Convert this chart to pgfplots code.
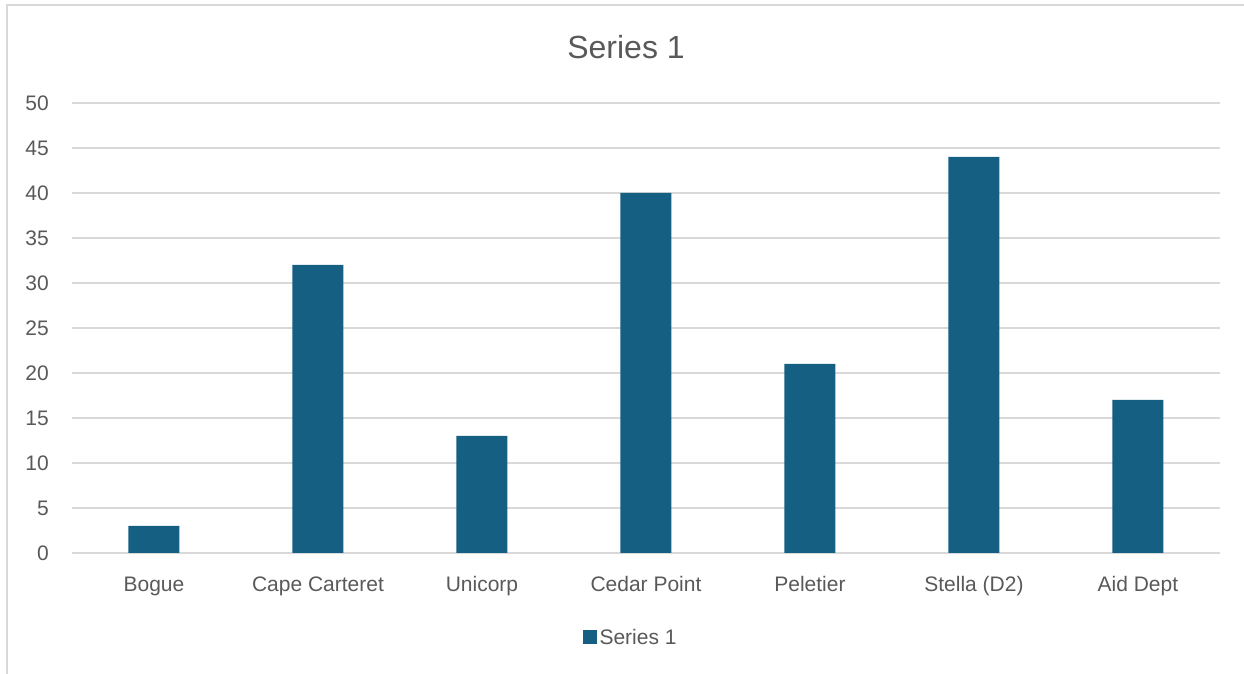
\documentclass[border=0pt]{standalone}
\usepackage{fontspec}
\setmainfont{Liberation Sans}
\usepackage{pgfplots}
\pgfplotsset{compat=1.18}
\definecolor{barblue}{HTML}{156082}
\definecolor{txtgray}{HTML}{595959}
\definecolor{gridgray}{HTML}{D9D9D9}
\begin{document}
\begin{tikzpicture}[x=1pt,y=1pt]
  \useasboundingbox (0,0) rectangle (1244,674);
  % chart frame (only left and top edges are visible)
  \draw[gridgray, line width=1.5pt] (7,0) -- (7,669) -- (1250,669);
  \node[anchor=base, text=txtgray, inner sep=0pt, font=\fontsize{32}{38}\selectfont] at (626,615) {Series 1};
  \begin{axis}[
    at={(72pt,121pt)}, anchor=south west,
    scale only axis, width=1148pt, height=450pt,
    xmin=-0.5, xmax=6.5, ymin=0, ymax=50,
    ytick={0,5,...,50},
    xtick=data,
    xticklabels={Bogue,Cape Carteret,Unicorp,Cedar Point,Peletier,Stella (D2),Aid Dept},
    axis line style={draw=none},
    major tick length=0pt,
    ymajorgrids, grid style={gridgray, line width=1.5pt},
    tick label style={text=txtgray, font=\fontsize{21}{25}\selectfont},
    /pgf/number format/assume math mode=true,
    yticklabel style={anchor=east, inner sep=0pt, xshift=-23pt},
    xticklabel style={anchor=base, inner sep=0pt, yshift=-38pt},
    legend style={at={(axis description cs:0.487,-0.187)}, anchor=center,
      draw=none, fill=none, text=txtgray, font=\fontsize{21}{25}\selectfont,
      inner sep=0pt, nodes={inner sep=2.5pt}},
    ybar, bar width=51pt,
    legend image code/.code={\fill[barblue] (0pt,-7pt) rectangle (14pt,7pt);},
  ]
    \addplot[fill=barblue, draw=none] coordinates {
      (0,3) (1,32) (2,13) (3,40) (4,21) (5,44) (6,17)
    };
    \addlegendentry{Series 1}
  \end{axis}
\end{tikzpicture}
\end{document}
